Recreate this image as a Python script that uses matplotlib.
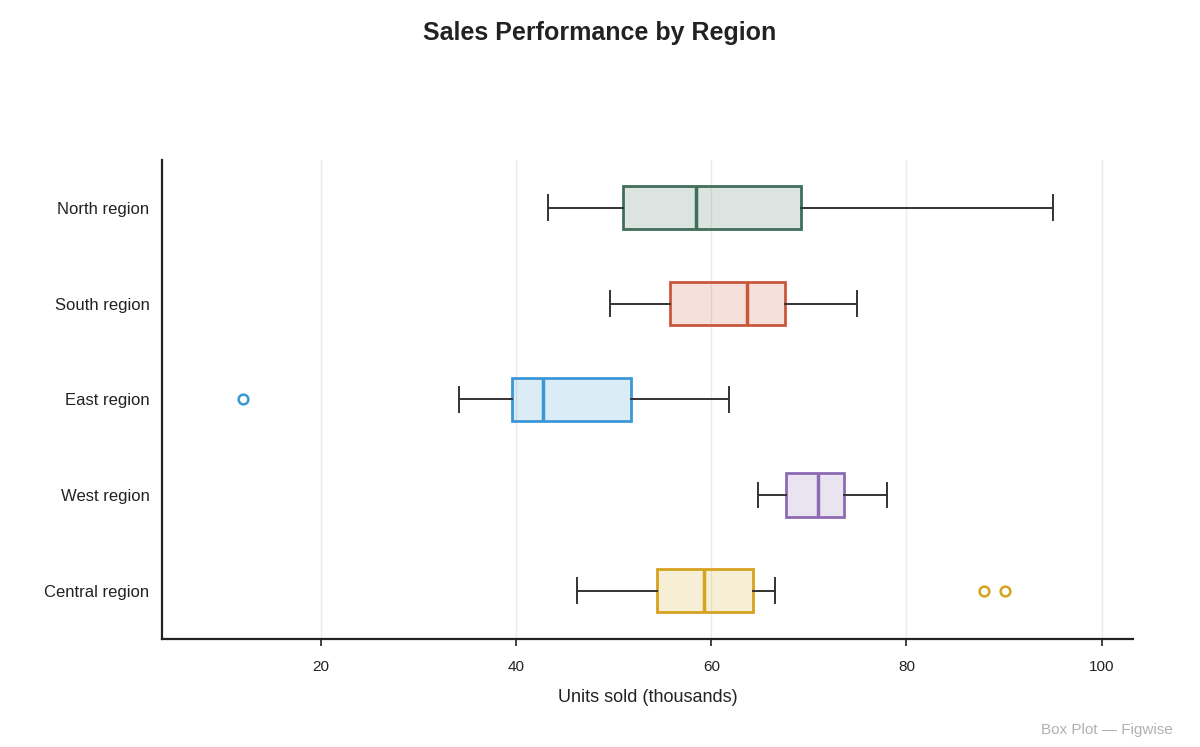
import matplotlib
matplotlib.use("Agg")
import matplotlib.pyplot as plt

plt.rcParams['font.family'] = ['Liberation Sans', 'DejaVu Sans']

regions = ['North region', 'South region', 'East region', 'West region', 'Central region']
whislo = [43.3, 49.6, 34.1, 64.8, 46.2]
q1 = [50.9, 55.8, 39.6, 67.7, 54.4]
med = [58.4, 63.7, 42.8, 70.9, 59.3]
q3 = [69.2, 67.6, 51.8, 73.6, 64.3]
whishi = [95.0, 74.9, 61.8, 78.0, 66.5]
fliers = [[], [], [12.0], [], [88.0, 90.1]]
colors = ['#3f6e5a', '#c9583b', '#3b97d6', '#8d6bb3', '#d6a21f']

stats = []
for i, r in enumerate(regions):
    stats.append(dict(label=r, whislo=whislo[i], q1=q1[i], med=med[i],
                      q3=q3[i], whishi=whishi[i], fliers=fliers[i]))

fig = plt.figure(figsize=(12, 7.47), dpi=100)
ax = fig.add_axes([0.135, 0.145, 0.809, 0.641])

positions = list(range(1, len(regions) + 1))
bp = ax.bxp(stats, positions=positions, vert=False, widths=0.45,
            patch_artist=True, showfliers=True, capwidths=0.26)

for i, c in enumerate(colors):
    bp['boxes'][i].set_facecolor(matplotlib.colors.to_rgba(c, 0.18))
    bp['boxes'][i].set_edgecolor(c)
    bp['boxes'][i].set_linewidth(2)
    bp['medians'][i].set_color(c)
    bp['medians'][i].set_linewidth(2.5)
    bp['fliers'][i].set_marker('o')
    bp['fliers'][i].set_markerfacecolor('white')
    bp['fliers'][i].set_markeredgecolor(c)
    bp['fliers'][i].set_markeredgewidth(1.8)
    bp['fliers'][i].set_markersize(7)
for w in bp['whiskers']:
    w.set_color('#333333')
    w.set_linewidth(1.4)
for cap in bp['caps']:
    cap.set_color('#333333')
    cap.set_linewidth(1.4)

ax.set_ylim(5.5, 0.5)
ax.set_xlim(3.7, 103.2)
ax.set_xticks([20, 40, 60, 80, 100])
ax.set_yticks(positions)
ax.set_yticklabels(regions, fontsize=12, color='#222222')
ax.tick_params(axis='y', length=0, pad=9)
ax.tick_params(axis='x', length=5, width=1.2, color='#222222', labelsize=11,
               labelcolor='#222222', pad=10)
ax.xaxis.grid(True, color='#ebebeb', linewidth=1)
ax.set_axisbelow(True)
for s in ['top', 'right']:
    ax.spines[s].set_visible(False)
for s in ['left', 'bottom']:
    ax.spines[s].set_linewidth(1.6)
    ax.spines[s].set_color('#222222')

ax.set_xlabel('Units sold (thousands)', fontsize=13, color='#222222', labelpad=11)
fig.suptitle('Sales Performance by Region', fontsize=18, fontweight='bold',
             color='#222222', y=0.972)
fig.text(0.977, 0.014, 'Box Plot — Figwise', ha='right', va='bottom',
         fontsize=11, color='#b0b0b0')

fig.savefig('out.png', dpi=100)
